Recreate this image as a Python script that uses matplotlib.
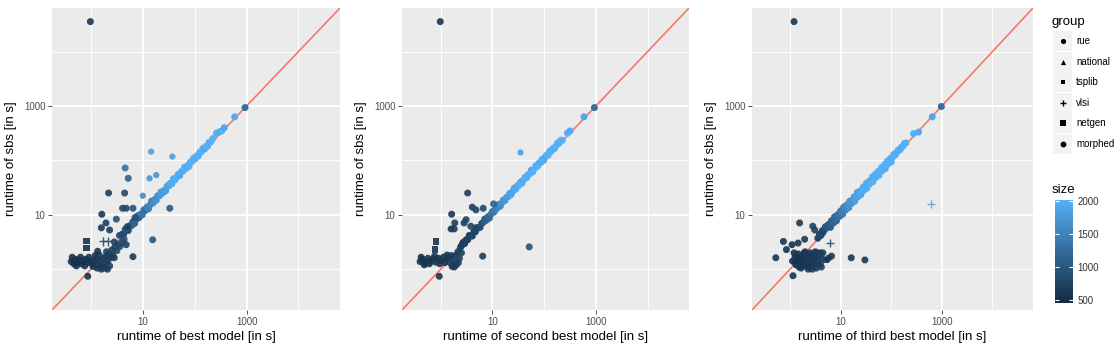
import matplotlib
matplotlib.use("Agg")  # headless
import matplotlib.pyplot as plt
from matplotlib.colors import LinearSegmentedColormap, Normalize
from matplotlib.ticker import FixedLocator, FixedFormatter, NullFormatter
from matplotlib.patches import Rectangle
import matplotlib.colorbar as mcolorbar

plt.rcParams["font.family"] = ["Liberation Sans", "DejaVu Sans"]

# ---- data, log10 of runtime in seconds ----
# group codes: r=rue n=national t=tsplib v=vlsi g=netgen m=morphed
group_names = {"r": "rue", "n": "national", "t": "tsplib", "v": "vlsi", "g": "netgen", "m": "morphed"}
group_order = ["rue", "national", "tsplib", "vlsi", "netgen", "morphed"]

# panel 1: best model vs sbs -- clusters and outliers
p1_x = [-0.38, -0.33, -0.30, -0.26, -0.22, -0.18, -0.14, -0.10, -0.06, -0.02, 0.02, 0.06, 0.10, 0.14, 0.18,
        0.22, 0.24, 0.28, 0.30, 0.33, 0.36, 0.38,
        -0.36, -0.28, -0.20, -0.12, -0.04, 0.04, 0.08, 0.16, 0.20, 0.26, 0.32, 0.12,
        0.30, 0.35, 0.40, 0.42, 0.46, 0.50, 0.52, 0.56, 0.60, 0.64,
        0.66, 0.72, 1.13, 1.26, 0.34, 0.65, 1.00, 0.61, 0.68, 0.81, 1.52, 0.21, 0.29, 0.49, 0.20, 0.36,
        1.19, -0.09, -0.09, 0.23, 0.32, 0.13, 0.68, 0.81, 0.45, -0.06, 1.16, 1.57, -0.01, 0.45, 0.55,
        0.70, 0.85]
p1_y = [0.14, 0.10, 0.18, 0.12, 0.16, 0.10, 0.14, 0.18, 0.12, 0.16, 0.10, 0.14, 0.20, 0.08, 0.15,
        0.05, 0.20, 0.10, 0.24, 0.16, 0.06, 0.22,
        0.22, 0.06, 0.22, 0.06, 0.22, 0.05, 0.25, 0.26, 0.00, 0.02, 0.00, 0.02,
        0.32, 0.28, 0.35, 0.26, 0.40, 0.34, 0.45, 0.42, 0.50, 0.55,
        1.86, 1.67, 1.67, 1.73, 1.40, 1.40, 1.35, 1.12, 1.12, 1.12, 1.12, 1.01, 0.85, 0.92, 0.76, 0.72,
        0.54, 0.52, 0.39, 0.51, 0.51, 0.33, 0.45, 0.23, 0.21, -0.13, 2.16, 2.07, 4.55, 0.50, 0.62,
        0.78, 0.95]
p1_size = [560, 540, 560, 550, 570, 560, 580, 560, 600, 580, 600, 620, 600, 640, 620,
           650, 640, 660, 680, 660, 700, 680,
           550, 560, 570, 580, 600, 610, 620, 640, 650, 660, 680, 630,
           700, 720, 740, 700, 760, 780, 800, 820, 850, 880,
           1300, 1100, 1700, 1700, 700, 800, 1600, 800, 800, 900, 1000, 600, 700, 900, 650, 700,
           1000, 550, 550, 800, 800, 600, 750, 650, 650, 550, 1800, 1800, 600, 700, 800,
           700, 900]
p1_group = ("mmmmgmmmmmmmmmmmmmmmmm"
            "mmmmmmmmmmmm"
            "mmmmmmmmmm"
            "mmrrmmrmmmmmmmmm"
            "mggvvmmmmmrrmmm"
            "mm")
# panel 1: the dense diagonal band
p1_band_x = [0.60, 0.63, 0.66, 0.69, 0.72, 0.75, 0.78, 0.81, 0.84, 0.87, 0.90, 0.93, 0.96, 0.99, 1.02,
             1.05, 1.08, 1.11, 1.14, 1.17, 1.20, 1.23, 1.26, 1.29, 1.32, 1.35, 1.38, 1.41, 1.44, 1.47,
             1.50, 1.53, 1.56, 1.59, 1.62, 1.65, 1.68, 1.71, 1.74, 1.77, 1.80, 1.83, 1.86, 1.89, 1.92,
             1.95, 1.98, 2.01, 2.04, 2.07, 2.10, 2.13, 2.16, 2.19, 2.22, 2.25, 2.28, 2.31, 2.35, 2.42,
             2.47, 2.52, 2.57, 2.77, 2.97]
p1_band_y = [0.64, 0.64, 0.73, 0.72, 0.71, 0.80, 0.80, 0.87, 0.84, 0.91, 0.98, 0.95, 1.01, 1.00, 1.09,
             1.08, 1.14, 1.11, 1.18, 1.25, 1.22, 1.28, 1.27, 1.35, 1.35, 1.42, 1.40, 1.45, 1.44, 1.53,
             1.53, 1.58, 1.57, 1.66, 1.64, 1.69, 1.74, 1.72, 1.79, 1.80, 1.87, 1.85, 1.90, 1.89, 1.97,
             1.98, 2.04, 2.03, 2.08, 2.08, 2.15, 2.16, 2.22, 2.21, 2.26, 2.26, 2.33, 2.34, 2.40, 2.50,
             2.52, 2.54, 2.60, 2.80, 2.97]
p1_band_size = [900, 850, 950, 1000, 900, 1050, 1100, 1000, 1150, 1200, 1250, 1150, 1300, 1350, 1400,
                1300, 1450, 1500, 1550, 1450, 1600, 1650, 1700, 1600, 1750, 1800, 1750, 1850, 1800, 1900,
                1850, 1900, 1950, 1900, 2000, 1950, 2000, 1900, 2000, 1950, 2000, 2000, 1950, 2000, 1900,
                2000, 2000, 1950, 2000, 2000, 1950, 2000, 2000, 1900, 2000, 2000, 1950, 2000, 2000, 2000,
                1950, 2000, 1900, 1950, 1300]

# panel 2: second best model vs sbs
p2_x = [-0.40, -0.35, -0.30, -0.25, -0.20, -0.15, -0.10, -0.05, 0.00, 0.05, 0.10, 0.15, 0.18, 0.22, 0.25,
        0.28, 0.30, 0.33, 0.36, 0.38, 0.40, 0.42,
        -0.38, -0.32, -0.22, -0.12, -0.02, 0.08, 0.12, 0.20, 0.26, 0.34,
        0.52, 0.61, 0.68, 0.82, 1.02, 0.21, 0.27, 0.45, 0.49, 0.20, 0.26, 0.58, 0.68, -0.09, -0.11,
        0.81, -0.03, 1.71, 1.53, -0.01]
p2_y = [0.14, 0.18, 0.12, 0.20, 0.15, 0.19, 0.13, 0.20, 0.16, 0.22, 0.18, 0.22, 0.12, 0.05, 0.15,
        0.25, 0.08, 0.32, 0.20, 0.40, 0.30, 0.46,
        0.22, 0.08, 0.10, 0.24, 0.10, 0.12, 0.26, 0.25, 0.04, 0.12,
        1.40, 1.14, 1.09, 1.12, 1.20, 1.01, 0.85, 0.85, 0.91, 0.74, 0.74, 0.79, 0.76, 0.51, 0.36,
        0.24, -0.13, 0.41, 2.15, 4.55]
p2_size = [540, 550, 550, 560, 560, 570, 580, 580, 600, 600, 620, 620, 640, 650, 650,
           660, 680, 680, 700, 700, 720, 740,
           550, 560, 570, 580, 600, 610, 620, 640, 650, 680,
           650, 700, 750, 800, 1100, 600, 650, 700, 750, 600, 650, 750, 800, 550, 550,
           650, 550, 950, 1800, 600]
p2_group = ("mmmmmmmmmmmmmmmmmmmmmm"
            "mmmmmmmmmm"
            "mmmmmmmmmmmmmgg"
            "mmmrm")
p2_band_x = [0.40, 0.43, 0.46, 0.49, 0.52, 0.55, 0.58, 0.61, 0.64, 0.67, 0.70, 0.73, 0.76, 0.79, 0.82,
             0.85, 0.88, 0.91, 0.94, 0.97, 1.00, 1.03, 1.06, 1.09, 1.12, 1.15, 1.18, 1.21, 1.24, 1.27,
             1.30, 1.33, 1.36, 1.39, 1.42, 1.45, 1.48, 1.51, 1.54, 1.57, 1.60, 1.63, 1.66, 1.69, 1.72,
             1.75, 1.78, 1.81, 1.84, 1.87, 1.90, 1.93, 1.96, 1.99, 2.02, 2.05, 2.08, 2.11, 2.14, 2.17,
             2.20, 2.23, 2.26, 2.29, 2.32, 2.35, 2.45, 2.50, 2.77, 2.97]
p2_band_y = [0.43, 0.49, 0.47, 0.54, 0.54, 0.62, 0.61, 0.61, 0.69, 0.69, 0.76, 0.76, 0.77, 0.84, 0.86,
             0.92, 0.90, 0.96, 0.94, 1.01, 1.06, 1.05, 1.11, 1.12, 1.19, 1.16, 1.22, 1.27, 1.26, 1.32,
             1.33, 1.39, 1.37, 1.43, 1.49, 1.47, 1.53, 1.54, 1.60, 1.58, 1.64, 1.69, 1.68, 1.74, 1.75,
             1.82, 1.79, 1.85, 1.90, 1.89, 1.95, 1.96, 2.02, 2.00, 2.06, 2.10, 2.10, 2.17, 2.17, 2.22,
             2.22, 2.27, 2.32, 2.32, 2.37, 2.37, 2.50, 2.54, 2.80, 2.97]
p2_band_size = [650, 700, 680, 720, 700, 750, 740, 780, 760, 800, 850, 820, 900, 950, 1000,
                1050, 1100, 1150, 1200, 1300, 1350, 1400, 1450, 1500, 1550, 1600, 1650, 1700, 1750, 1800,
                1800, 1850, 1900, 1850, 1900, 1950, 1900, 2000, 1950, 2000, 1950, 2000, 2000, 1950, 2000,
                1900, 2000, 2000, 1950, 2000, 2000, 1950, 2000, 2000, 1900, 2000, 2000, 1950, 2000, 2000,
                1950, 2000, 2000, 1950, 2000, 2000, 2000, 1950, 1900, 1300]

# panel 3: third best model vs sbs
p3_x = [0.05, 0.10, 0.12, 0.16, 0.18, 0.22, 0.24, 0.28, 0.30, 0.33, 0.36, 0.38, 0.40, 0.43, 0.45,
        0.48, 0.50, 0.52, 0.55, 0.58, 0.60, 0.63, 0.65, 0.28, 0.42, 0.34, 0.20, 0.46,
        0.08, 0.14, 0.26, 0.32, 0.36, 0.40, 0.44, 0.47, 0.52, 0.56, 0.62, 0.60, 0.26, 0.30, 0.22,
        0.38, 0.50, 0.54, 0.18, 0.10,
        0.19, -0.13, 0.04, 0.16, -0.07, -0.28, 0.29, 0.45, 0.49, 0.79, 0.72, 0.82, 0.76, 1.21, 1.48,
        0.06, 0.08, 2.78, 0.65]
p3_y = [0.15, 0.22, 0.08, 0.28, 0.14, 0.02, 0.20, 0.30, 0.10, 0.24, 0.00, 0.16, 0.30, 0.06, 0.22,
        0.12, 0.32, 0.02, 0.18, 0.26, 0.10, 0.20, 0.30, 0.18, 0.12, 0.08, 0.22, 0.28,
        0.30, 0.18, 0.06, 0.16, 0.26, 0.20, 0.00, 0.18, 0.24, 0.08, 0.04, 0.30, 0.26, 0.32, 0.12,
        0.04, 0.10, 0.30, 0.04, 0.12,
        0.85, 0.51, 0.45, 0.48, 0.36, 0.21, 0.55, 0.79, 0.72, 0.48, 0.17, 0.24, 0.20, 0.21, 0.17,
        -0.12, 4.55, 1.20, 0.67]
p3_size = [560, 560, 570, 580, 580, 590, 600, 600, 610, 620, 620, 630, 640, 640, 650,
           650, 660, 660, 670, 680, 680, 690, 700, 600, 640, 620, 580, 650,
           570, 580, 600, 620, 630, 640, 650, 650, 660, 670, 690, 690, 600, 610, 590,
           630, 660, 680, 580, 570,
           600, 550, 560, 580, 550, 550, 620, 700, 700, 900, 600, 620, 600, 600, 620,
           560, 600, 1900, 800]
p3_group = ("mmmmmmmmmmmmmmmmmmmmmmmmmmmm"
            "mmmmmmmmmmmmmmmmmmmm"
            "mmmmmmmmmvgmmmm"
            "mmvm")
p3_band_x = [0.55, 0.58, 0.61, 0.64, 0.67, 0.70, 0.73, 0.76, 0.79, 0.82, 0.85, 0.88, 0.91, 0.94, 0.97,
             1.00, 1.03, 1.06, 1.09, 1.12, 1.15, 1.18, 1.21, 1.24, 1.27, 1.30, 1.33, 1.36, 1.39, 1.42,
             1.45, 1.48, 1.51, 1.54, 1.57, 1.60, 1.63, 1.66, 1.69, 1.72, 1.75, 1.78, 1.81, 1.84, 1.87,
             1.90, 1.93, 1.96, 1.99, 2.02, 2.05, 2.08, 2.11, 2.14, 2.17, 2.20, 2.23, 2.26, 2.29, 2.44,
             2.54, 2.81, 2.99,
             0.80, 0.86, 0.92, 0.98, 1.04, 1.10, 1.16, 1.22, 1.28, 1.34, 1.40, 1.46, 1.52, 1.58, 1.64,
             1.70, 1.76, 1.82, 1.88, 1.94, 2.00]
p3_band_y = [0.57, 0.64, 0.62, 0.71, 0.71, 0.78, 0.76, 0.82, 0.81, 0.89, 0.89, 0.96, 0.94, 1.00, 0.98,
             1.07, 1.07, 1.14, 1.11, 1.18, 1.18, 1.25, 1.26, 1.26, 1.33, 1.34, 1.41, 1.39, 1.44, 1.43,
             1.51, 1.52, 1.58, 1.56, 1.62, 1.63, 1.70, 1.70, 1.75, 1.74, 1.80, 1.81, 1.87, 1.85, 1.92,
             1.94, 1.99, 1.98, 2.04, 2.05, 2.11, 2.10, 2.15, 2.19, 2.19, 2.24, 2.26, 2.31, 2.32, 2.49,
             2.52, 2.80, 2.99,
             0.77, 0.85, 0.89, 0.97, 1.01, 1.09, 1.13, 1.21, 1.25, 1.33, 1.37, 1.45, 1.49, 1.57, 1.61,
             1.69, 1.73, 1.81, 1.85, 1.93, 1.97]
p3_band_size = [800, 850, 820, 900, 880, 950, 1000, 980, 1050, 1100, 1150, 1200, 1250, 1300, 1350,
                1400, 1450, 1500, 1550, 1600, 1650, 1700, 1750, 1800, 1750, 1850, 1800, 1900, 1850, 1900,
                1950, 1900, 2000, 1950, 2000, 1900, 2000, 1950, 2000, 2000, 1950, 2000, 2000, 1900, 2000,
                2000, 1950, 2000, 2000, 1950, 2000, 2000, 1950, 2000, 2000, 1950, 2000, 2000, 2000, 2000,
                1950, 1900, 1300,
                1050, 1150, 1250, 1350, 1450, 1550, 1650, 1700, 1800, 1850, 1900, 1950, 1950, 2000, 2000,
                1950, 2000, 2000, 1950, 2000, 2000]

x_titles = ["runtime of best model [in s]", "runtime of second best model [in s]",
            "runtime of third best model [in s]"]
y_title = "runtime of sbs [in s]"
major_ticks = [10, 1000]
minor_ticks = [1, 100, 10000]
size_ticks = [500, 1000, 1500, 2000]

# ---- styling ----
W, H = 1120, 347
marker_of = {"rue": ("o", 20), "national": ("^", 20), "tsplib": ("s", 14),
             "vlsi": ("+", 36), "netgen": ("s", 22), "morphed": ("8", 28)}
cmap = LinearSegmentedColormap.from_list("gg", ["#132B43", "#336A98", "#56B1F7"])
norm = Normalize(vmin=455, vmax=2015)
lim = (10 ** -0.75, 10 ** 4.8)


def px_box(left, top, right, bottom):
    return [left / W, 1 - bottom / H, (right - left) / W, (bottom - top) / H]


def draw_group(ax, xs, ys, sz, g, alpha=0.9):
    m, ms = marker_of[g]
    gx = [10 ** v for v in xs]
    gy = [10 ** v for v in ys]
    if m == "+":
        ax.scatter(gx, gy, c=sz, cmap=cmap, norm=norm, marker=m, s=ms, lw=1.0,
                   alpha=alpha, zorder=3)
    else:
        ax.scatter(gx, gy, c=sz, cmap=cmap, norm=norm, marker=m, s=ms, lw=0,
                   alpha=alpha, zorder=3)


fig = plt.figure(figsize=(W / 100, H / 100), dpi=100)
boxes = [px_box(52, 8, 340, 310), px_box(402, 8, 689, 310), px_box(752, 8, 1033, 310)]
panels = [(p1_x, p1_y, p1_size, p1_group, p1_band_x, p1_band_y, p1_band_size),
          (p2_x, p2_y, p2_size, p2_group, p2_band_x, p2_band_y, p2_band_size),
          (p3_x, p3_y, p3_size, p3_group, p3_band_x, p3_band_y, p3_band_size)]

for box, (xs, ys, sz, grp, bx, by, bs), xt in zip(boxes, panels, x_titles):
    assert len(xs) == len(ys) == len(sz) == len(grp), (len(xs), len(ys), len(sz), len(grp))
    assert len(bx) == len(by) == len(bs), (len(bx), len(by), len(bs))
    ax = fig.add_axes(box)
    ax.set_facecolor("#EBEBEB")
    for s in ax.spines.values():
        s.set_visible(False)
    ax.set_xscale("log")
    ax.set_yscale("log")
    ax.set_xlim(lim)
    ax.set_ylim(lim)
    for axis in (ax.xaxis, ax.yaxis):
        axis.set_major_locator(FixedLocator(major_ticks))
        axis.set_major_formatter(FixedFormatter([str(t) for t in major_ticks]))
        axis.set_minor_locator(FixedLocator(minor_ticks))
        axis.set_minor_formatter(NullFormatter())
    ax.grid(which="major", color="white", lw=1.3)
    ax.grid(which="minor", color="white", lw=0.65)
    ax.set_axisbelow(True)
    ax.tick_params(which="major", length=2.8, width=0.6, color="#333333",
                   labelsize=7, labelcolor="#4D4D4D", pad=2)
    ax.tick_params(which="minor", length=0)

    ax.plot(lim, lim, color="#F8766D", lw=1.2, zorder=2)

    # diagonal band (morphed instances), dense enough to read as one stroke
    draw_group(ax, bx, by, bs, "morphed", alpha=1.0)
    for g in group_order:
        code = [k for k, v in group_names.items() if v == g][0]
        idx = [i for i, c in enumerate(grp) if c == code]
        if idx:
            draw_group(ax, [xs[i] for i in idx], [ys[i] for i in idx], [sz[i] for i in idx], g)

    ax.set_xlabel(xt, fontsize=9.5, labelpad=3)
    ax.set_ylabel(y_title, fontsize=9.5, labelpad=5)

# ---- legend: group ----
lax = fig.add_axes([0, 0, 1, 1])
lax.set_xlim(0, W)
lax.set_ylim(H, 0)
lax.axis("off")
lax.text(1052, 22, "group", fontsize=9.5, va="center", ha="left")
key_y = [41, 62, 82, 103, 123, 144]
for g, ky in zip(group_order, key_y):
    lax.add_patch(Rectangle((1053, ky - 10), 19, 20, facecolor="#F2F2F2", edgecolor="none"))
    m, ms = marker_of[g]
    lax.scatter([1062.5], [ky], marker=m, s=ms * 0.7, color="black",
                lw=1.0 if m == "+" else 0)
    lax.text(1076, ky, g, fontsize=7, va="center", ha="left", color="black")

# ---- legend: size colourbar ----
lax.text(1052, 190, "size", fontsize=9.5, va="center", ha="left")
cax = fig.add_axes(px_box(1055, 200, 1073, 303))
cb = mcolorbar.ColorbarBase(cax, cmap=cmap, norm=norm, ticks=size_ticks)
cb.outline.set_visible(False)
cb.ax.tick_params(direction="in", color="white", length=3, width=0.8,
                  left=True, right=True, labelsize=7, labelcolor="#333333", pad=3)
cb.ax.set_yticklabels([str(t) for t in size_ticks])

fig.savefig("out.png", dpi=100)
